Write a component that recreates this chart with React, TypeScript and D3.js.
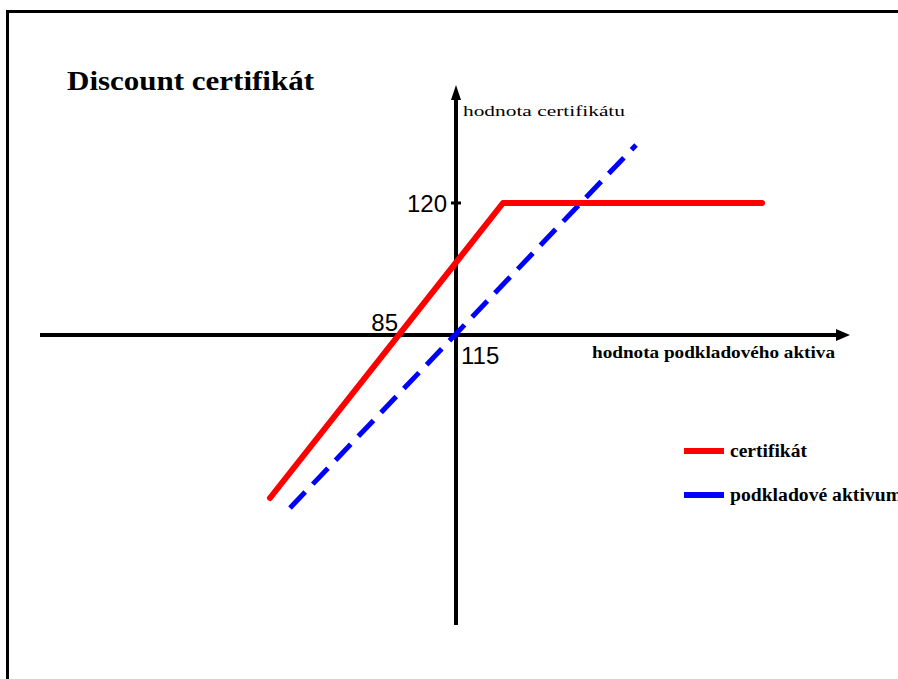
import React from 'react';
import * as d3 from 'd3';

// chart units: origin where the axes cross
const certX = [-18.6, 4.7, 30.6];
const certY = [-16.3, 13.2, 13.2];
const assetX = [-16.6, 18.0];
const assetY = [-17.3, 19.0];

const xAxisLabel = 'hodnota podkladového aktiva';
const yAxisLabel = 'hodnota certifikátu';
const capLabel = '120';
const capValue = 13.2;
const strikeLabel = '85';
const strikeValue = -5.7;
const originLabel = '115';
const legendNames = ['certifikát', 'podkladové aktivum'];
const legendColors = ['#ff0000', '#0000ff'];
const legendWidths = [77, 172];

const width = 898;
const height = 679;

export default function App() {
  const x = d3.scaleLinear().domain([-41.6, 39.4]).range([40, 850]);
  const y = d3.scaleLinear().domain([-29, 25]).range([625, 85]);

  const line = d3
    .line<[number, number]>()
    .x((d) => x(d[0]))
    .y((d) => y(d[1]));

  const certPts = certX.map((v, i) => [v, certY[i]] as [number, number]);
  const assetPts = assetX.map((v, i) => [v, assetY[i]] as [number, number]);

  const x0 = x(0);
  const y0 = y(0);
  const xEnd = x.range()[1];
  const yTop = y.range()[1];
  const serif = '"Liberation Serif", "DejaVu Serif", serif';
  const sans = '"Liberation Sans", Arial, sans-serif';

  return (
    <svg
      width={width}
      height={height}
      style={{ position: 'absolute', left: 0, top: 0, background: '#fff' }}
    >
      {/* frame */}
      <rect x={7.5} y={11.5} width={width + 20} height={height + 20} fill="none" stroke="#000" strokeWidth={3} />

      <text x={67} y={90} fontFamily={serif} fontWeight="bold" fontSize={28} textLength={247} lengthAdjust="spacingAndGlyphs">
        Discount certifikát
      </text>

      {/* axes */}
      <line x1={x.range()[0]} x2={xEnd - 12} y1={y0} y2={y0} stroke="#000" strokeWidth={4} />
      <polygon points={`${xEnd},${y0} ${xEnd - 14},${y0 - 6} ${xEnd - 14},${y0 + 6}`} fill="#000" />
      <line x1={x0} x2={x0} y1={y.range()[0]} y2={yTop + 12} stroke="#000" strokeWidth={4} />
      <polygon points={`${x0},${yTop} ${x0 - 5},${yTop + 15} ${x0 + 5},${yTop + 15}`} fill="#000" />
      <line x1={x0 - 5} x2={x0 + 5} y1={y(capValue)} y2={y(capValue)} stroke="#000" strokeWidth={3} />

      <text x={463} y={116} fontFamily={serif} fontSize={15} textLength={162} lengthAdjust="spacingAndGlyphs">
        {yAxisLabel}
      </text>
      <text x={592} y={358} fontFamily={serif} fontWeight="bold" fontSize={16} textLength={243} lengthAdjust="spacingAndGlyphs">
        {xAxisLabel}
      </text>

      <text x={x0 - 9} y={y(capValue) + 9} textAnchor="end" fontFamily={sans} fontSize={24}>
        {capLabel}
      </text>
      <text x={x(strikeValue) - 1} y={y0 - 4} textAnchor="end" fontFamily={sans} fontSize={24}>
        {strikeLabel}
      </text>
      <text x={x0 + 5} y={y0 + 29} fontFamily={sans} fontSize={24}>
        {originLabel}
      </text>

      {/* series */}
      <path d={line(assetPts) || ''} fill="none" stroke="#0000ff" strokeWidth={5} strokeDasharray="22 11" />
      <path d={line(certPts) || ''} fill="none" stroke="#ff0000" strokeWidth={6} strokeLinecap="round" strokeLinejoin="round" />

      {/* legend */}
      {legendNames.map((name, i) => (
        <g key={name} transform={`translate(684, ${451 + i * 44})`}>
          <line x1={0} x2={40} y1={0} y2={0} stroke={legendColors[i]} strokeWidth={6} />
          <text x={46} y={6} fontFamily={serif} fontWeight="bold" fontSize={18} textLength={legendWidths[i]} lengthAdjust="spacingAndGlyphs">
            {name}
          </text>
        </g>
      ))}
    </svg>
  );
}
